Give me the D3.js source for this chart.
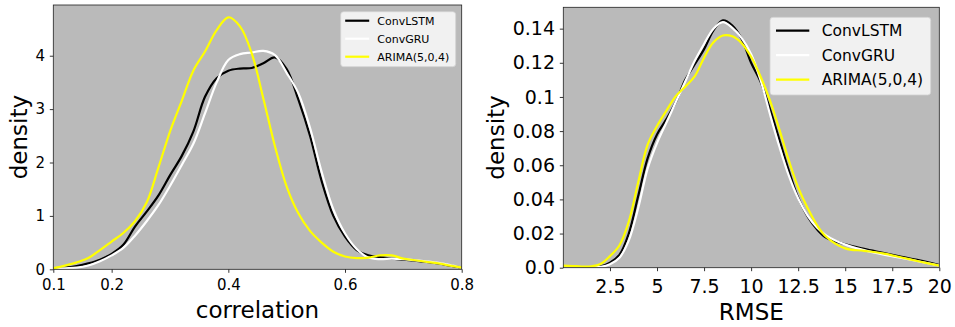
<!DOCTYPE html>
<html>
<head>
<meta charset="utf-8">
<script src="https://cdn.jsdelivr.net/npm/d3@7/dist/d3.min.js"></script>
<style>
  html, body { margin: 0; padding: 0; background: #ffffff; }
  svg { display: block; font-family: "DejaVu Sans", sans-serif; }
</style>
</head>
<body>
<svg id="chart" width="955" height="327"></svg>
<script>
// ---------- data ----------
const seriesNames = ["ConvLSTM", "ConvGRU", "ARIMA(5,0,4)"];
const seriesColors = ["#000000", "#ffffff", "#ffff00"];

// left panel: correlation density
const corrX = [0.10,0.12,0.14,0.16,0.18,0.20,0.22,0.24,0.26,0.28,0.30,0.32,0.34,0.36,0.38,0.40,0.42,0.44,0.46,0.48,0.50,0.52,0.54,0.56,0.58,0.60,0.62,0.64,0.66,0.68,0.70,0.72,0.74,0.76,0.78,0.80];
const corrConvLSTM = [0.02,0.03,0.06,0.11,0.18,0.29,0.46,0.80,1.08,1.38,1.76,2.12,2.58,3.23,3.58,3.72,3.76,3.77,3.86,3.97,3.75,3.18,2.50,1.65,1.00,0.61,0.36,0.26,0.23,0.20,0.18,0.16,0.14,0.11,0.07,0.03];
const corrConvGRU  = [0.01,0.02,0.03,0.07,0.15,0.26,0.40,0.63,0.90,1.20,1.56,1.95,2.35,2.92,3.50,3.92,4.03,4.06,4.09,4.01,3.68,3.30,2.65,1.82,1.12,0.67,0.38,0.22,0.19,0.20,0.19,0.17,0.15,0.12,0.08,0.03];
const corrARIMA    = [0.02,0.07,0.13,0.21,0.36,0.52,0.68,0.90,1.25,1.90,2.58,3.15,3.72,4.08,4.48,4.72,4.55,4.05,3.20,2.30,1.55,1.05,0.72,0.50,0.33,0.24,0.21,0.22,0.26,0.26,0.20,0.17,0.14,0.11,0.07,0.03];
const corrXTicks = [0.1, 0.2, 0.4, 0.6, 0.8];
const corrXTickLabels = ["0.1", "0.2", "0.4", "0.6", "0.8"];
const corrYTicks = [0, 1, 2, 3, 4];
const corrYTickLabels = ["0", "1", "2", "3", "4"];

// right panel: RMSE density
const rmseX = [0,0.5,1,1.5,2,2.5,3,3.5,4,4.5,5,5.5,6,6.5,7,7.5,8,8.5,9,9.5,10,10.5,11,11.5,12,12.5,13,13.5,14,15,16,17,18,19,20];
const rmseConvLSTM = [0.0002,0.0002,0.0002,0.0003,0.0008,0.0030,0.0075,0.0200,0.0420,0.0640,0.0780,0.0870,0.0970,0.1100,0.1190,0.1280,0.1390,0.1448,0.1418,0.1340,0.1200,0.1090,0.0930,0.0750,0.0570,0.0410,0.0300,0.0225,0.0175,0.0137,0.0110,0.0087,0.0064,0.0042,0.0015];
const rmseConvGRU  = [0.0002,0.0002,0.0002,0.0002,0.0005,0.0020,0.0058,0.0160,0.0350,0.0580,0.0730,0.0850,0.0970,0.1090,0.1210,0.1310,0.1400,0.1438,0.1405,0.1345,0.1250,0.1100,0.0900,0.0710,0.0540,0.0405,0.0305,0.0235,0.0188,0.0135,0.0103,0.0078,0.0057,0.0035,0.0013];
const rmseARIMA    = [0.0012,0.0010,0.0007,0.0008,0.0022,0.0068,0.0130,0.0270,0.0500,0.0720,0.0830,0.0920,0.1005,0.1060,0.1120,0.1230,0.1320,0.1360,0.1355,0.1315,0.1235,0.1120,0.0980,0.0810,0.0630,0.0470,0.0350,0.0250,0.0180,0.0113,0.0099,0.0084,0.0060,0.0035,0.0012];
const rmseXTicks = [2.5, 5, 7.5, 10, 12.5, 15, 17.5, 20];
const rmseXTickLabels = ["2.5", "5", "7.5", "10", "12.5", "15", "17.5", "20"];
const rmseYTicks = [0, 0.02, 0.04, 0.06, 0.08, 0.10, 0.12, 0.14];
const rmseYTickLabels = ["0.0", "0.02", "0.04", "0.06", "0.08", "0.1", "0.12", "0.14"];

// ---------- drawing ----------
const svg = d3.select("#chart");

function panel(cfg) {
  const x = d3.scaleLinear().domain(cfg.xDomain).range([cfg.left, cfg.right]);
  const y = d3.scaleLinear().domain(cfg.yDomain).range([cfg.bottom, cfg.top]);
  const g = svg.append("g");

  g.append("rect")
    .attr("x", cfg.left).attr("y", cfg.top)
    .attr("width", cfg.right - cfg.left).attr("height", cfg.bottom - cfg.top)
    .attr("fill", "#bababa");

  const clipId = "clip" + cfg.id;
  svg.append("clipPath").attr("id", clipId).append("rect")
    .attr("x", cfg.left).attr("y", cfg.top)
    .attr("width", cfg.right - cfg.left).attr("height", cfg.bottom - cfg.top);

  const line = d3.line()
    .x((d, i) => x(cfg.xs[i]))
    .y(d => y(d))
    .curve(d3.curveCatmullRom.alpha(0.5));

  cfg.series.forEach((s, k) => {
    g.append("path")
      .attr("d", line(s))
      .attr("fill", "none")
      .attr("stroke", seriesColors[k])
      .attr("stroke-width", cfg.lw)
      .attr("stroke-linejoin", "round")
      .attr("clip-path", `url(#${clipId})`);
  });

  // axes
  const xAxis = d3.axisBottom(x).tickValues(cfg.xTicks)
    .tickFormat((d, i) => cfg.xTickLabels[i])
    .tickSize(3.5).tickSizeOuter(0).tickPadding(cfg.xPad);
  const yAxis = d3.axisLeft(y).tickValues(cfg.yTicks)
    .tickFormat((d, i) => cfg.yTickLabels[i])
    .tickSize(3.5).tickSizeOuter(0).tickPadding(cfg.yPad);

  const gx = g.append("g").attr("transform", `translate(0,${cfg.bottom})`).call(xAxis);
  const gy = g.append("g").attr("transform", `translate(${cfg.left},0)`).call(yAxis);
  [gx, gy].forEach(a => {
    a.select(".domain").remove();
    a.selectAll(".tick line").attr("stroke", "#000").attr("stroke-width", 0.8);
    a.selectAll(".tick text").attr("fill", "#000")
      .style("font-family", "DejaVu Sans").style("font-size", cfg.tickFont + "px");
  });

  // frame
  g.append("rect")
    .attr("x", cfg.left).attr("y", cfg.top)
    .attr("width", cfg.right - cfg.left).attr("height", cfg.bottom - cfg.top)
    .attr("fill", "none").attr("stroke", "#222").attr("stroke-width", 0.8);

  // axis labels
  g.append("text")
    .attr("x", (cfg.left + cfg.right) / 2).attr("y", cfg.xLabelY)
    .attr("text-anchor", "middle")
    .style("font-size", cfg.labelFont + "px")
    .text(cfg.xLabel);
  g.append("text")
    .attr("transform", `translate(${cfg.yLabelX},${(cfg.top + cfg.bottom) / 2}) rotate(-90)`)
    .attr("text-anchor", "middle")
    .style("font-size", cfg.labelFont + "px")
    .text("density");

  // legend
  const L = cfg.legend;
  g.append("rect")
    .attr("x", L.x).attr("y", L.y).attr("width", L.w).attr("height", L.h)
    .attr("rx", 3).attr("ry", 3)
    .attr("fill", "#f1f1f1").attr("stroke", "#d2d2d2").attr("stroke-width", 0.8);
  seriesNames.forEach((name, k) => {
    const yy = L.y + L.row0 + k * L.dy;
    g.append("line")
      .attr("x1", L.x + L.lx0).attr("x2", L.x + L.lx1)
      .attr("y1", yy).attr("y2", yy)
      .attr("stroke", seriesColors[k]).attr("stroke-width", cfg.lw);
    g.append("text")
      .attr("x", L.x + L.tx).attr("y", yy)
      .attr("dy", "0.36em")
      .style("font-size", L.font + "px")
      .text(name);
  });
}

panel({
  id: "L",
  left: 53.3, right: 461.7, top: 5, bottom: 269.3,
  xDomain: [0.1, 0.8], yDomain: [0, 4.95],
  xs: corrX, series: [corrConvLSTM, corrConvGRU, corrARIMA],
  xTicks: corrXTicks, xTickLabels: corrXTickLabels,
  yTicks: corrYTicks, yTickLabels: corrYTickLabels,
  xPad: 6.5, yPad: 4.8, tickFont: 15, lw: 2.2,
  xLabel: "correlation", xLabelY: 318, yLabelX: 27, labelFont: 23,
  legend: { x: 340.7, y: 11.7, w: 115, h: 55, row0: 9, dy: 18, lx0: 4.5, lx1: 28.5, tx: 36.6, font: 11 }
});

panel({
  id: "R",
  left: 563.3, right: 939.3, top: 7.3, bottom: 267.7,
  xDomain: [0.02, 20], yDomain: [0, 0.1525],
  xs: rmseX, series: [rmseConvLSTM, rmseConvGRU, rmseARIMA],
  xTicks: rmseXTicks, xTickLabels: rmseXTickLabels,
  yTicks: rmseYTicks, yTickLabels: rmseYTickLabels,
  xPad: 8, yPad: 4.8, tickFont: 19, lw: 2.2,
  xLabel: "RMSE", xLabelY: 320, yLabelX: 503.5, labelFont: 23,
  legend: { x: 770, y: 17.3, w: 160.7, h: 77.7, row0: 13.4, dy: 24.5, lx0: 6, lx1: 39.3, tx: 51.7, font: 15.5 }
});
</script>
</body>
</html>
